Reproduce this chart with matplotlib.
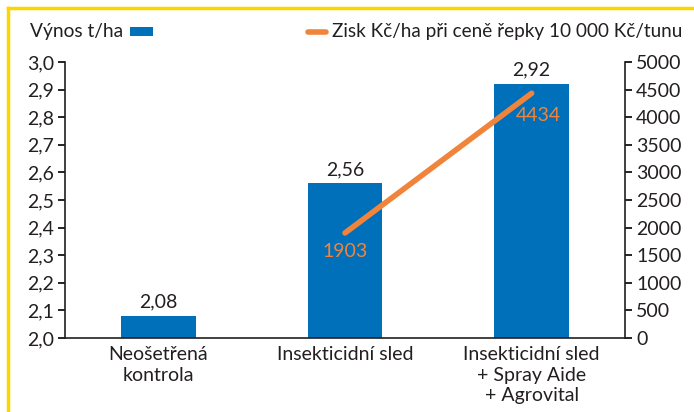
import matplotlib
matplotlib.use("Agg")
import matplotlib.pyplot as plt
from matplotlib.lines import Line2D
from matplotlib.patches import Rectangle

plt.rcParams['font.family'] = ['Lato', 'DejaVu Sans']

categories = ["Neošetřená\nkontrola", "Insekticidní sled", "Insekticidní sled\n+ Spray Aide\n+ Agrovital"]
yields = [2.08, 2.56, 2.92]
yield_labels = ["2,08", "2,56", "2,92"]
profit_x = [1, 2]
profit = [1903, 4434]
left_ticks = [2.0, 2.1, 2.2, 2.3, 2.4, 2.5, 2.6, 2.7, 2.8, 2.9, 3.0]
left_tick_labels = ["2,0", "2,1", "2,2", "2,3", "2,4", "2,5", "2,6", "2,7", "2,8", "2,9", "3,0"]
right_ticks = [0, 500, 1000, 1500, 2000, 2500, 3000, 3500, 4000, 4500, 5000]

BLUE = "#0070BA"
ORANGE = "#F0843A"
YELLOW = "#FFD500"
TXT = "#231f20"
FS = 14

fig = plt.figure(figsize=(6.94, 4.12), dpi=100)
ax = fig.add_axes([65/694, 74/412, 560/694, 276/412])
x = list(range(len(categories)))
ax.bar(x, [v - 2.0 for v in yields], bottom=2.0, width=0.4, color=BLUE, zorder=2)
for xi, v, lab in zip(x, yields, yield_labels):
    ax.text(xi, v + 0.02, lab, ha='center', va='bottom', fontsize=FS, color=TXT)
ax.set_xlim(-0.5, 2.5)
ax.set_ylim(2.0, 3.0)
ax.set_yticks(left_ticks)
ax.set_yticklabels(left_tick_labels)
ax.set_xticks(x)
ax.set_xticklabels(categories, fontsize=FS, linespacing=1.25, color=TXT)
ax.tick_params(axis='x', length=0, pad=6)
ax.tick_params(axis='y', labelsize=FS, length=5, width=1.2, pad=3, labelcolor=TXT)
ax.spines['top'].set_visible(False)
ax.spines['right'].set_visible(False)
for s in ['left', 'bottom']:
    ax.spines[s].set_linewidth(1.2)
    ax.spines[s].set_color(TXT)

ax2 = ax.twinx()
ax2.plot(profit_x, profit, color=ORANGE, lw=4, solid_capstyle='round', zorder=3)
ax2.set_ylim(0, 5000)
ax2.set_yticks(right_ticks)
ax2.set_yticklabels([str(t) for t in right_ticks])
ax2.tick_params(axis='y', labelsize=FS, length=5, width=1.2, pad=3, labelcolor=TXT)
for s in ['top', 'left', 'bottom']:
    ax2.spines[s].set_visible(False)
ax2.spines['right'].set_linewidth(1.2)
ax2.spines['right'].set_color(TXT)
ax2.annotate(f"{profit[0]}", (profit_x[0], profit[0]), xytext=(0, -7), textcoords='offset points',
             ha='center', va='top', fontsize=FS, color=ORANGE)
ax2.annotate(f"{profit[1]}", (profit_x[1], profit[1]), xytext=(5, -10), textcoords='offset points',
             ha='center', va='top', fontsize=FS, color=ORANGE)

# legend
fig.text(30/694, 1 - 31/412, "Výnos t/ha", fontsize=13.8, va='center', ha='left', color=TXT)
fig.patches.append(Rectangle((130/694, 1 - 36/412), 23/694, 9/412, transform=fig.transFigure,
                             facecolor=BLUE, edgecolor='none'))
fig.lines.append(Line2D([308/694, 326/694], [1 - 32/412, 1 - 32/412], transform=fig.transFigure,
                        color=ORANGE, lw=4, solid_capstyle='round'))
fig.text(332/694, 1 - 31/412, "Zisk Kč/ha při ceně řepky 10 000 Kč/tunu", fontsize=13.6,
         va='center', ha='left', color=TXT)

# yellow frame
fig.lines.append(Line2D([8/694, 8/694], [0, 1 - 8/412], transform=fig.transFigure, color=YELLOW, lw=2.5))
fig.lines.append(Line2D([8/694, 1], [1 - 8/412, 1 - 8/412], transform=fig.transFigure, color=YELLOW, lw=2.5))

fig.savefig("out.png", dpi=100)
